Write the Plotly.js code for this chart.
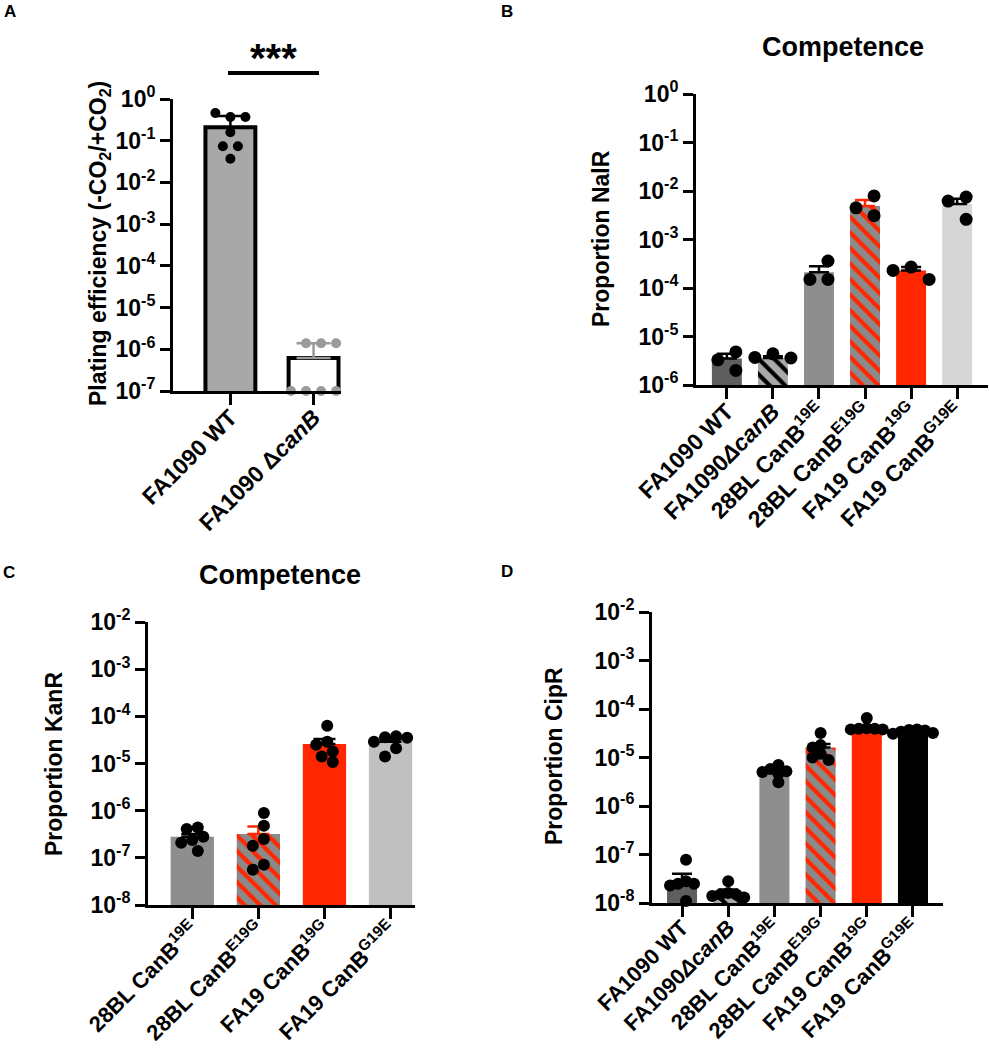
<!DOCTYPE html>
<html>
<head>
<meta charset="utf-8">
<script src="https://cdn.plot.ly/plotly-3.0.1.min.js"></script>
<style>body{margin:0;background:#fff}</style>
</head>
<body>
<div id="fig" style="width:989px;height:1050px"></div>
<script>
// ---- panel A: plating efficiency
const catsA = ['FA1090 WT', 'FA1090 Δ<i>canB</i>'];
const ptsA = [
  [0.37, 0.46, 0.37, 0.16, 0.074, 0.074, 0.037],
  [1.4e-6, 1.4e-6, 1.4e-6, 1e-7, 1e-7, 1e-7, 1e-7]
];
const meanA = [0.21, 6.2e-7];
const semA = [0.18, 7.8e-7];

// ---- panel B: competence, NalR
const catsB = ['FA1090 WT', 'FA1090<i>ΔcanB</i>', '28BL CanB<sup>19E</sup>', '28BL CanB<sup>E19G</sup>', 'FA19 CanB<sup>19G</sup>', 'FA19 CanB<sup>G19E</sup>'];
const ptsB = [
  [4.8e-6, 3.3e-6, 2.0e-6],
  [4.4e-6, 3.7e-6, 3.6e-6],
  [3.6e-4, 1.5e-4, 1.5e-4],
  [7.9e-3, 4.5e-3, 3.1e-3],
  [2.7e-4, 2.3e-4, 1.5e-4],
  [7.5e-3, 6.2e-3, 2.6e-3]
];
const meanB = [3.5e-6, 3.6e-6, 2.1e-4, 4.9e-3, 2.3e-4, 5.4e-3];
const semB = [0.9e-6, 0.3e-6, 0.7e-4, 1.6e-3, 0.4e-4, 1.5e-3];

// ---- panel C: competence, KanR
const catsC = ['28BL CanB<sup>19E</sup>', '28BL CanB<sup>E19G</sup>', 'FA19 CanB<sup>19G</sup>', 'FA19 CanB<sup>G19E</sup>'];
const ptsC = [
  [4.4e-7, 4.1e-7, 2.8e-7, 2.4e-7, 2.1e-7, 1.4e-7],
  [8.9e-7, 4.8e-7, 2.5e-7, 1.8e-7, 7.1e-8, 5.6e-8],
  [6.3e-5, 2.9e-5, 2.5e-5, 1.8e-5, 1.4e-5, 1.07e-5],
  [3.8e-5, 3.6e-5, 3.5e-5, 2.9e-5, 2.1e-5, 1.4e-5]
];
const meanC = [2.8e-7, 3.2e-7, 2.6e-5, 2.9e-5];
const semC = [0.4e-7, 1.4e-7, 0.7e-5, 0.4e-5];

// ---- panel D: CipR
const catsD = catsB;
const ptsD = [
  [7.8e-8, 2.8e-8, 2.5e-8, 2.5e-8, 2.3e-8, 1.1e-8],
  [2.8e-8, 1.6e-8, 1.5e-8, 1.5e-8, 1.4e-8, 1.3e-8],
  [7.0e-6, 5.8e-6, 5.2e-6, 5.0e-6, 4.6e-6, 3.1e-6],
  [3.2e-5, 1.8e-5, 1.6e-5, 1.2e-5, 1.0e-5, 8.9e-6],
  [6.5e-5, 4.0e-5, 3.9e-5, 3.9e-5, 3.8e-5, 3.8e-5],
  [3.8e-5, 3.7e-5, 3.6e-5, 3.4e-5, 3.2e-5, 3.1e-5]
];
const meanD = [2.8e-8, 1.7e-8, 5.0e-6, 1.6e-5, 4.1e-5, 3.2e-5];
const semD = [1.2e-8, 0.2e-8, 0.5e-6, 0.3e-5, 0.4e-5, 0.2e-5];

// bar looks
const RED = '#ff2600';
const DARK = '#5e5e5e', MID = '#8e8e8e';
const HATCH_K = {bg: '#a9a9a9', fg: '#000000'};
const HATCH_R = {bg: '#8a8a8a', fg: RED};

const W = 989, H = 1050;
const FONT = 'Liberation Sans, Arial, sans-serif';

// simple beeswarm so the dots don't sit on top of each other
function swarm(vals, pxDec, pxCat, gap) {
  let placed = [];
  let offs = [];
  vals.forEach(v => {
    let y = Math.log10(v) * pxDec;
    let cands = [0];
    for (let k = 1; k <= 10; k++) cands.push(-k * gap / 2, k * gap / 2);
    let o = cands.find(c => placed.every(p => Math.hypot(p[0] - c, p[1] - y) >= gap * 0.95));
    if (o === undefined) o = 0;
    placed.push([o, y]);
    offs.push(o);
  });
  let mid = (Math.min(...offs) + Math.max(...offs)) / 2;
  return offs.map(o => (o - mid) / pxCat);
}

let traces = [];

function panel(ax, pts, means, sems, looks, opt) {
  const xa = 'x' + (ax === 1 ? '' : ax), ya = 'y' + (ax === 1 ? '' : ax);
  means.forEach((m, i) => {
    const lk = looks[i];
    let marker = {color: lk.color || '#fff', line: {width: lk.outline || 0, color: '#000'}};
    if (lk.hatch) {
      marker.color = lk.hatch.bg;
      marker.pattern = {shape: '\\', bgcolor: lk.hatch.bg, fgcolor: lk.hatch.fg, size: 11, solidity: 0.38, fillmode: 'replace'};
    }
    traces.push({
      type: 'bar', x: [i], y: [m], width: opt.bw, xaxis: xa, yaxis: ya,
      marker: marker, hoverinfo: 'skip', showlegend: false,
      error_y: {type: 'data', symmetric: false, array: [sems[i]], arrayminus: [0],
        color: lk.err || '#000', thickness: 2.5, width: opt.cap}
    });
  });
  pts.forEach((p, i) => {
    const off = swarm(p, opt.pxDec, opt.pxCat, opt.gap);
    traces.push({
      type: 'scatter', mode: 'markers', x: off.map(o => i + o), y: p,
      xaxis: xa, yaxis: ya, cliponaxis: false, hoverinfo: 'skip', showlegend: false,
      marker: {size: opt.dot, color: looks[i].dot || '#000', line: {width: 0}}
    });
  });
}

panel(1, ptsA, meanA, semA,
  [{color: '#a8a8a8', outline: 4}, {color: '#ffffff', outline: 4, err: '#9a9a9a', dot: '#9a9a9a'}],
  {bw: 0.6, cap: 17, pxDec: 41.7, pxCat: 83, gap: 15, dot: 10});
panel(2, ptsB, meanB, semB,
  [{color: DARK}, {hatch: HATCH_K}, {color: MID}, {hatch: HATCH_R, err: RED}, {color: RED}, {color: '#d6d6d6'}],
  {bw: 0.65, cap: 10, pxDec: 48.5, pxCat: 46, gap: 18, dot: 13});
panel(3, ptsC, meanC, semC,
  [{color: MID}, {hatch: HATCH_R, err: RED}, {color: RED}, {color: '#c0c0c0'}],
  {bw: 0.655, cap: 11, pxDec: 47.2, pxCat: 65.7, gap: 11, dot: 12});
panel(4, ptsD, meanD, semD,
  [{color: DARK}, {hatch: HATCH_K}, {color: MID}, {hatch: HATCH_R}, {color: RED}, {color: '#000000'}],
  {bw: 0.65, cap: 10, pxDec: 48.5, pxCat: 46.2, gap: 8, dot: 12});

function xAxis(left, right, cats, r, standoff, fs) {
  return {
    domain: [left / W, right / W], range: r, tickvals: cats.map((c, i) => i), ticktext: cats,
    tickangle: -45, showline: true, linewidth: 3, linecolor: '#000', ticks: 'outside',
    ticklen: 11, tickwidth: 3, tickcolor: '#000', showgrid: false, zeroline: false,
    ticklabelstandoff: standoff,
    tickfont: {family: FONT, size: fs, color: '#000', weight: 'bold'}, fixedrange: true
  };
}
function yAxis(top, bottom, lo, hi, anchor) {
  let vals = [], txt = [];
  for (let e = lo; e <= hi; e++) { vals.push(Math.pow(10, e)); txt.push('10<sup>' + e + '</sup>'); }
  return {
    domain: [1 - bottom / H, 1 - top / H], type: 'log', range: [lo, hi], anchor: anchor,
    tickvals: vals, ticktext: txt, showline: true, linewidth: 3, linecolor: '#000',
    ticks: 'outside', ticklen: 10, tickwidth: 3, tickcolor: '#000', showgrid: false, zeroline: false,
    tickfont: {family: FONT, size: 23, color: '#000', weight: 'bold'}, fixedrange: true
  };
}

function note(text, x, y, size, angle) {
  return {text: text, x: x / W, y: 1 - y / H, xref: 'paper', yref: 'paper', showarrow: false,
    textangle: angle || 0, xanchor: 'center', yanchor: 'middle',
    font: {family: FONT, size: size, color: '#000', weight: 'bold'}};
}

const layout = {
  width: W, height: H, margin: {l: 0, r: 0, t: 0, b: 0},
  paper_bgcolor: '#fff', plot_bgcolor: 'rgba(0,0,0,0)',
  font: {family: FONT, size: 23, color: '#000', weight: 'bold'},
  barmode: 'overlay', showlegend: false,
  xaxis: Object.assign(xAxis(173, 341, catsA, [-0.69, 1.33], -10, 23), {anchor: 'y'}),
  yaxis: yAxis(99, 391, -7, 0, 'x'),
  xaxis2: Object.assign(xAxis(696, 988, catsB, [-0.67, 5.67], -10, 23), {anchor: 'y2'}),
  yaxis2: yAxis(94, 385, -6, 0, 'x2'),
  xaxis3: Object.assign(xAxis(148, 415, catsC, [-0.67, 3.37], -11, 22), {anchor: 'y3'}),
  yaxis3: yAxis(622, 905, -8, -2, 'x3'),
  xaxis4: Object.assign(xAxis(652, 943, catsD, [-0.65, 5.65], -11, 22), {anchor: 'y4'}),
  yaxis4: yAxis(612, 903, -8, -2, 'x4'),
  annotations: [
    note('A', 10, 11, 17), note('B', 507, 11, 17), note('C', 9, 572, 17), note('D', 507, 571, 17),
    note('Competence', 843, 47, 27), note('Competence', 280, 575, 27),
    note('Plating efficiency (-CO<sub>2</sub>/+CO<sub>2</sub>)', 100, 244, 23, -90),
    note('Proportion NalR', 601, 239, 23, -90),
    note('Proportion KanR', 54, 764, 23, -90),
    note('Proportion CipR', 554, 756, 23, -90),
    note('***', 273, 58, 40)
  ],
  shapes: [
    {type: 'line', xref: 'paper', yref: 'paper', x0: 228 / W, x1: 319 / W, y0: 1 - 73 / H, y1: 1 - 73 / H,
      line: {color: '#000', width: 4}}
  ]
};

Plotly.newPlot('fig', traces, layout, {staticPlot: true});
</script>
</body>
</html>
